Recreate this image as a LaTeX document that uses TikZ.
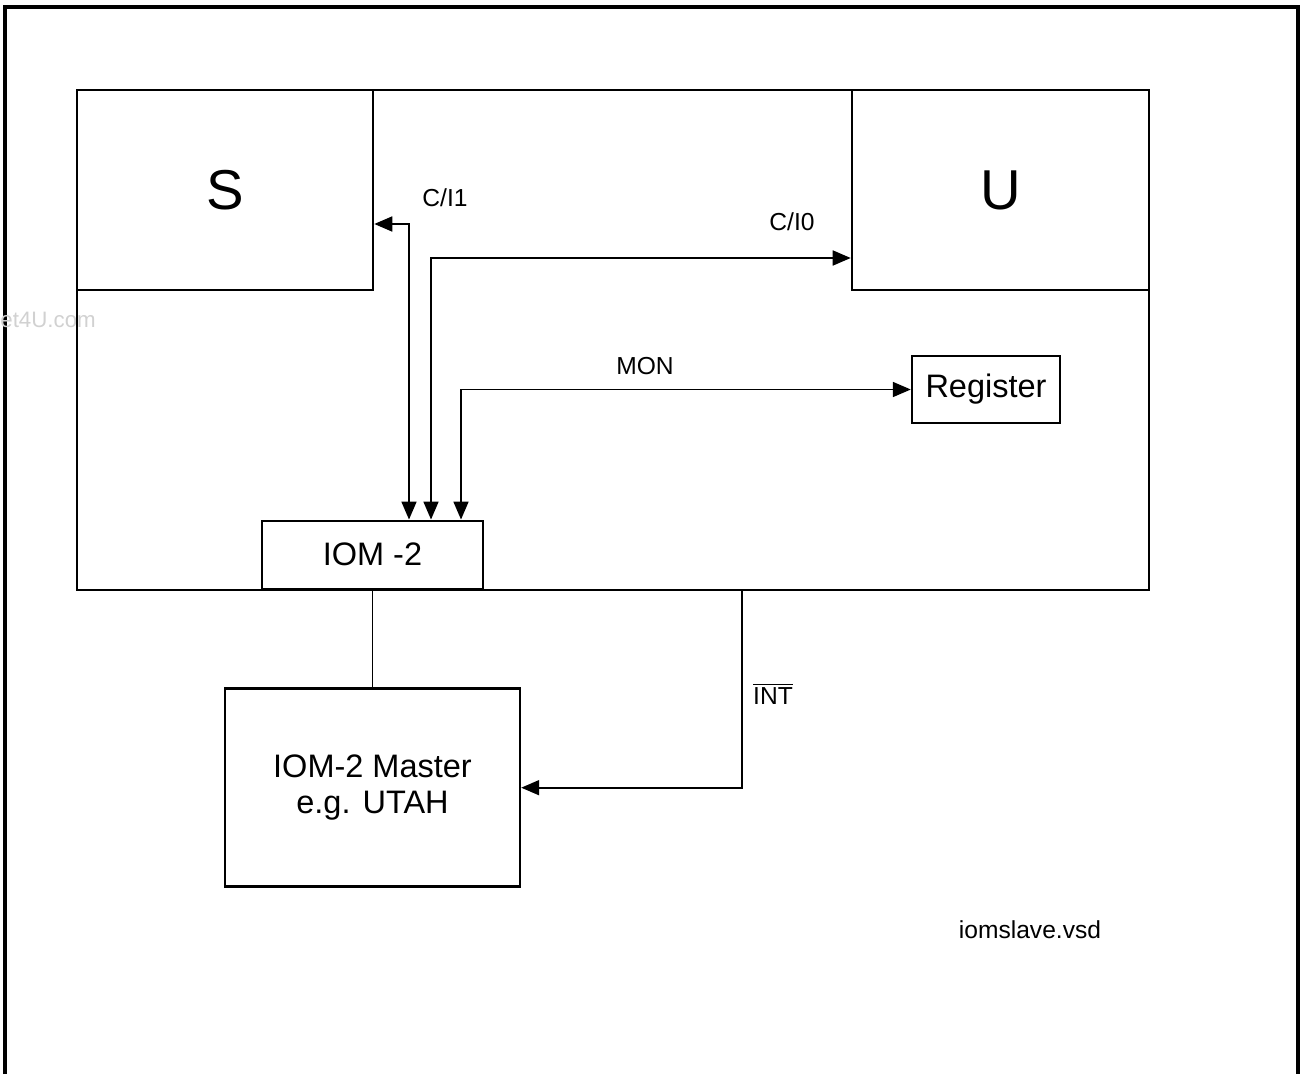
\documentclass[tikz,border=0pt]{standalone}
\usepackage{fontspec}
\setmainfont{Liberation Sans}
\usetikzlibrary{
  arrows.meta,
  positioning,
}
\newcommand{\fs}[1]{\fontsize{#1}{1.1\dimexpr#1\relax}\selectfont}

\tikzset{
  blk/.style={draw, line width=1.4pt, inner sep=0pt, align=center, font=\fs{18.5pt}},
  big/.style={font=\fs{32pt}},
  sig/.style={line width=1pt, {Triangle[length=0.36cm,width=0.3cm]}-{Triangle[length=0.36cm,width=0.3cm]}},
  sigone/.style={line width=1pt, -{Triangle[length=0.36cm,width=0.3cm]}},
  lbl/.style={inner sep=0pt, font=\fs{14pt}},
}

\begin{document}
\begin{tikzpicture}[x=0.02cm, y=-0.02cm]
    \useasboundingbox (0,0) rectangle (1300,1074);
    \draw [line width=1.8pt] (5,1074) -- (5,7) -- (1298,7) -- (1298,1074);
    \node [lbl, anchor=west, text=black!18, font=\fs{12.7pt}] (wm) at (0,320) {et4U.com};

    \node [blk, minimum width=21.44cm, minimum height=10cm] (chip) at (613,340) {};
    \node [blk, big, minimum width=5.92cm, minimum height=4cm, anchor=north west] (S) at (chip.north west) {S};
    \node [blk, big, minimum width=5.94cm, minimum height=4cm, anchor=north east] (U) at (chip.north east) {U};
    \node [blk, minimum width=2.96cm, minimum height=1.34cm] (reg) at (986,389.5) {Register};
    \node [blk, minimum width=4.42cm, minimum height=1.36cm, anchor=south] (iom) at (372.5,590) {IOM -2};
    \node [blk, minimum width=5.9cm, minimum height=3.96cm, below=1.95cm of iom] (master) {IOM-2 Master\\e.g. UTAH};

    \coordinate (lci1) at (409,224);
    \coordinate (lci0) at (431,258);
    \coordinate (lmon) at (461,390);
    \coordinate (lint) at (742,590);

    \draw [sig] (lci1 |- iom.north) |- (S.east |- lci1);
    \draw [sig] (lci0 |- iom.north) |- (U.west |- lci0);
    \draw [sig] (lmon |- iom.north) |- (reg.west);
    \draw [sigone] (lint |- chip.south) |- (master.east);
    \draw [line width=1pt] (iom.south) -- (master.north);

    \node [lbl] (tci1) at (445,198) {C/I1};
    \node [lbl] (tci0) at (792,222) {C/I0};
    \node [lbl] (tmon) at (645,366) {MON};
    \node [lbl] (tint) at (773,694) {$\overline{\mbox{INT}}$};
    \node [lbl] (file) at (1030,930) {iomslave.vsd};
  \end{tikzpicture}
\end{document}
